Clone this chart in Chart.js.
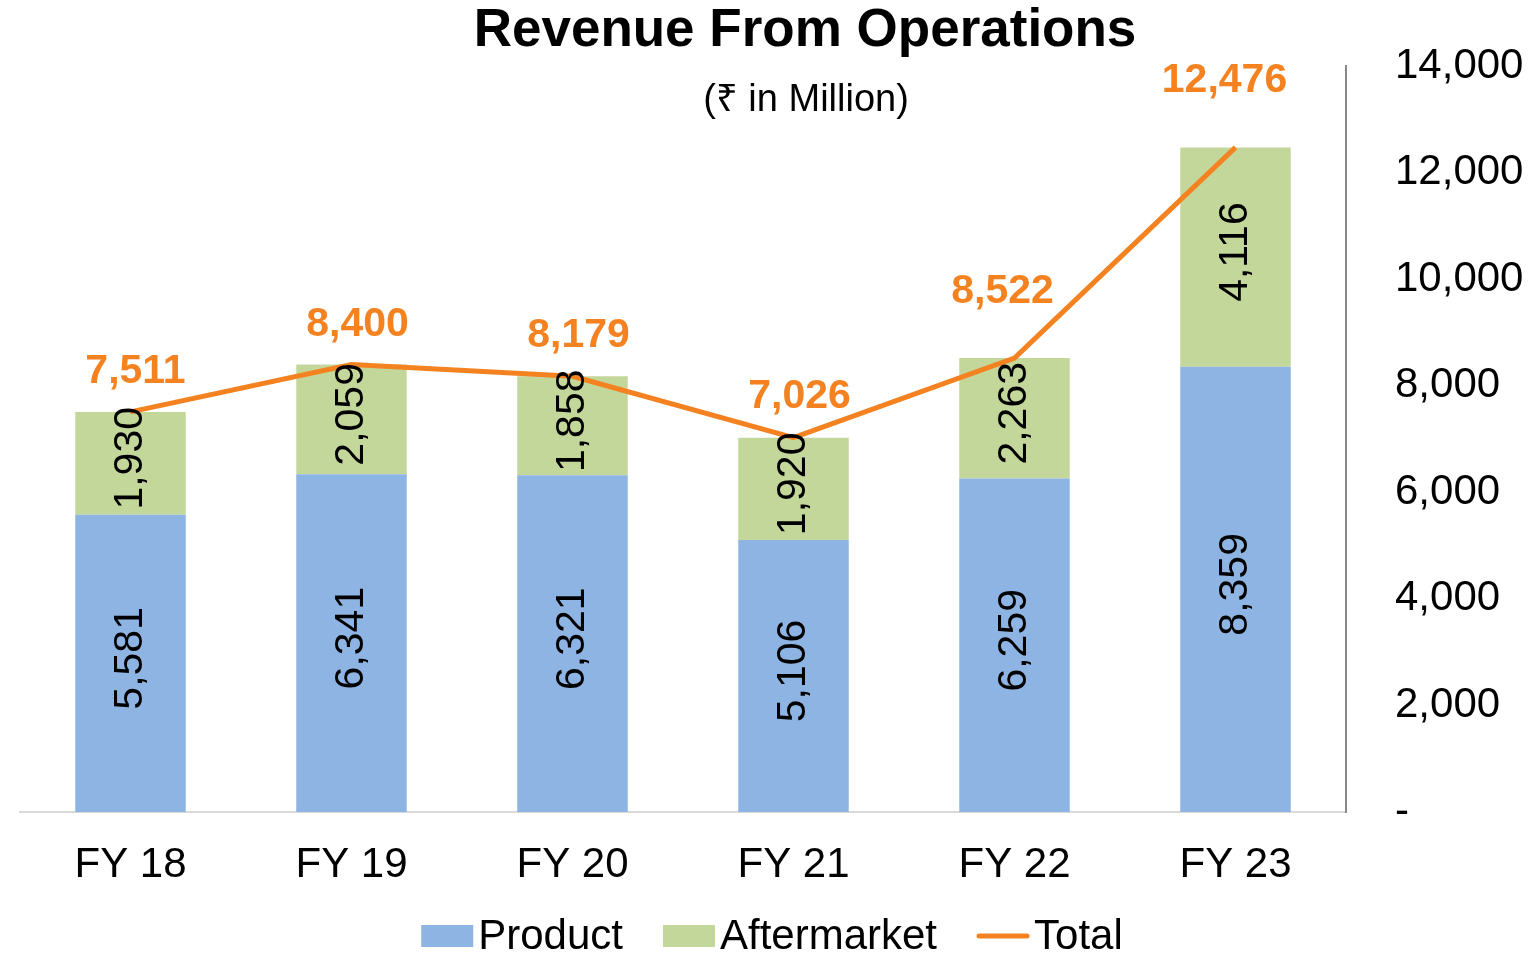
<!DOCTYPE html>
<html><head><meta charset="utf-8">
<script src="https://cdn.jsdelivr.net/npm/chart.js@4"></script>
<style>html,body{margin:0;padding:0;background:#fff}#wrap{width:1531px;height:955px}</style>
</head><body><div id="wrap"><canvas id="c" width="1531" height="955"></canvas></div>
<script>
const categories = ['FY 18', 'FY 19', 'FY 20', 'FY 21', 'FY 22', 'FY 23'];
const productValues = [5581, 6341, 6321, 5106, 6259, 8359];
const aftermarketValues = [1930, 2059, 1858, 1920, 2263, 4116];
const totalValues = [7511, 8400, 8179, 7026, 8522, 12476];
const yTickValues = [0, 2000, 4000, 6000, 8000, 10000, 12000, 14000];
const seriesNames = ['Product', 'Aftermarket', 'Total'];
const titleText = 'Revenue From Operations';
const subtitleText = '(\u20B9 in Million)';

const FONT = '"Liberation Sans", Arial, sans-serif';
const COLORS = { product: '#8EB4E3', after: '#C4D79B', total: '#F58220' };
const fmt = v => v.toLocaleString('en-US');

const labelPlugin = {
  id: 'customLabels',
  afterDatasetsDraw(chart, args, opts) {
    const ctx = chart.ctx;
    ctx.save();
    [0, 1].forEach(di => {
      const meta = chart.getDatasetMeta(di);
      const data = chart.data.datasets[di].data;
      meta.data.forEach((el, i) => {
        const cy = (el.y + el.base) / 2 - 5;
        ctx.save();
        ctx.translate(el.x, cy);
        ctx.rotate(-Math.PI / 2);
        ctx.font = '41px ' + FONT;
        ctx.fillStyle = '#000';
        ctx.textAlign = 'center';
        ctx.textBaseline = 'middle';
        ctx.fillText(fmt(data[i]), 0, 0);
        ctx.restore();
      });
    });
    const lmeta = chart.getDatasetMeta(2);
    const offs = opts.totalOffsets;
    lmeta.data.forEach((el, i) => {
      ctx.font = 'bold 41px ' + FONT;
      ctx.fillStyle = COLORS.total;
      ctx.textAlign = 'center';
      ctx.textBaseline = 'middle';
      ctx.fillText(fmt(totalValues[i]), el.x + offs[i][0], el.y + offs[i][1]);
    });
    ctx.restore();
  },
  afterDraw(chart, args, opts) {
    const ctx = chart.ctx;
    ctx.save();
    ctx.fillStyle = '#000';
    ctx.textAlign = 'center';
    ctx.textBaseline = 'middle';
    ctx.font = 'bold 53px ' + FONT;
    ctx.fillText(titleText, opts.titleX, opts.titleY);
    ctx.font = '38px ' + FONT;
    ctx.fillText(subtitleText, opts.titleX + 1, opts.subtitleY);

    ctx.font = '42px ' + FONT;
    const boxW = 52, boxH = 22, gapText = 5, gapItem = 40;
    const items = seriesNames.map((n, i) => ({ name: n, w: ctx.measureText(n).width, color: chart.data.datasets[i].backgroundColor || chart.data.datasets[i].borderColor, line: i === 2 }));
    let total = 0;
    items.forEach((it, i) => { total += boxW + gapText + it.w + (i < items.length - 1 ? gapItem : 0); });
    let x = opts.legendCX - total / 2;
    const y = opts.legendY;
    items.forEach(it => {
      if (it.line) {
        ctx.strokeStyle = COLORS.total;
        ctx.lineWidth = 5;
        ctx.lineCap = 'round';
        ctx.beginPath(); ctx.moveTo(x + 2, y); ctx.lineTo(x + boxW - 2, y); ctx.stroke();
      } else {
        ctx.fillStyle = it.color;
        ctx.fillRect(x, y - boxH / 2, boxW, boxH);
      }
      ctx.fillStyle = '#000';
      ctx.textAlign = 'left';
      ctx.fillText(it.name, x + boxW + gapText, y + 1);
      x += boxW + gapText + it.w + gapItem;
    });
    ctx.restore();
  }
};

new Chart(document.getElementById('c'), {
  type: 'bar',
  data: {
    labels: categories,
    datasets: [
      { label: seriesNames[0], data: productValues, backgroundColor: COLORS.product, stack: 'rev', order: 2 },
      { label: seriesNames[1], data: aftermarketValues, backgroundColor: COLORS.after, stack: 'rev', order: 2 },
      { type: 'line', label: seriesNames[2], data: totalValues, borderColor: COLORS.total, borderWidth: 5, pointRadius: 0, pointHoverRadius: 0, fill: false, tension: 0, stack: 'total', order: 1 }
    ]
  },
  options: {
    responsive: false,
    devicePixelRatio: 1,
    animation: false,
    events: [],
    layout: { padding: { left: 20, right: 0, top: 49, bottom: 0 } },
    datasets: { bar: { categoryPercentage: 1.0, barPercentage: 0.5 } },
    plugins: {
      legend: { display: false },
      tooltip: { enabled: false },
      title: { display: false },
      customLabels: {
        totalOffsets: [[5, -40], [6, -40], [6, -41], [6, -41], [-12, -66], [-11, -67]],
        titleX: 805, titleY: 31, subtitleY: 101,
        legendCX: 772, legendY: 936
      }
    },
    scales: {
      x: {
        stacked: true,
        grid: { display: false },
        border: { display: true, color: '#D9D9D9', width: 2 },
        ticks: { color: '#000', font: { family: FONT, size: 42 }, padding: 20, maxRotation: 0 },
        afterFit: s => { s.height = 143; }
      },
      y: {
        position: 'right',
        stacked: true,
        min: 0, max: 14000,
        grid: { display: false },
        border: { display: true, color: '#898989', width: 2 },
        afterBuildTicks: s => { s.ticks = yTickValues.map(v => ({ value: v })); },
        ticks: { color: '#000', font: { family: FONT, size: 42 }, padding: 41, crossAlign: 'near', callback: v => v === 0 ? '-' : fmt(v) },
        afterFit: s => { s.width = 185; }
      }
    }
  },
  plugins: [labelPlugin]
});
</script>
</body></html>
